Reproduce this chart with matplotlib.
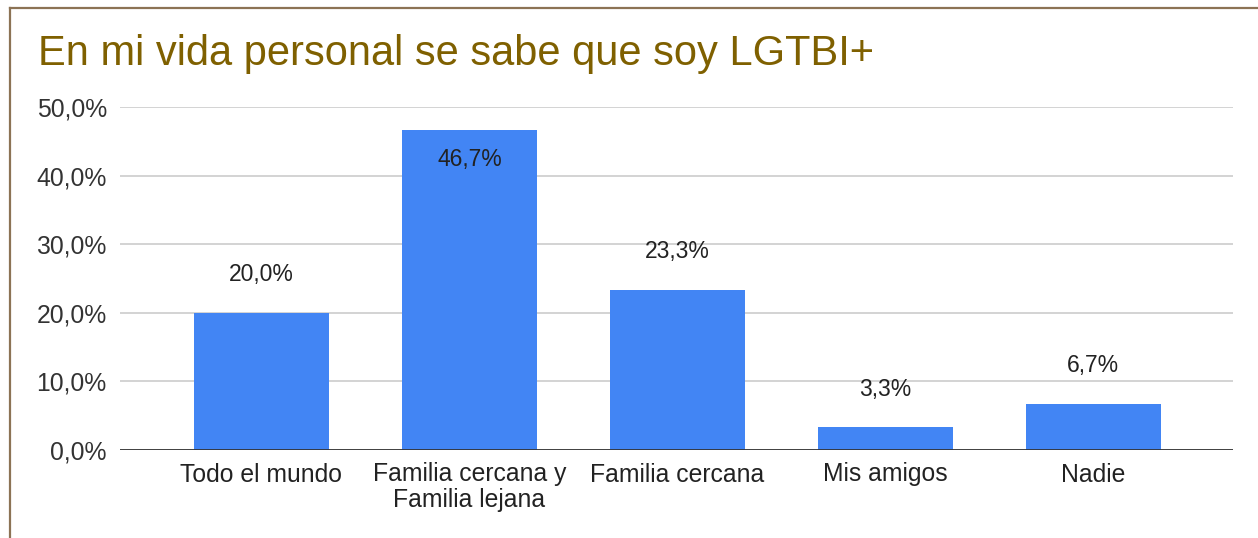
import matplotlib
matplotlib.use("Agg")
import matplotlib.pyplot as plt
from matplotlib.lines import Line2D
from matplotlib.ticker import FuncFormatter

categories = ["Todo el mundo", "Familia cercana y\nFamilia lejana", "Familia cercana", "Mis amigos", "Nadie"]
values = [20.0, 46.7, 23.3, 3.3, 6.7]
yticks = [0, 10, 20, 30, 40, 50]

plt.rcParams['font.family'] = ['Liberation Sans', 'DejaVu Sans']

W, H = 1258, 538
fig = plt.figure(figsize=(W / 100, H / 100), dpi=100)
fig.patch.set_facecolor('white')

ax = fig.add_axes([120 / W, 88 / H, (1233 - 120) / W, (450 - 107) / H])
x = list(range(len(categories)))
ax.bar(x, values, width=0.649, color='#4285F4', zorder=3)
ax.set_xlim(-0.680, 4.671)
ax.set_ylim(0, 50)
ax.set_yticks(yticks)
ax.yaxis.set_major_formatter(FuncFormatter(lambda v, p: f"{v:.1f}".replace('.', ',') + "%"))
ax.grid(axis='y', color='#cccccc', linewidth=1.2, zorder=0)
ax.axhline(0, color='#333333', linewidth=2.0, zorder=4)
for s in ax.spines.values():
    s.set_visible(False)
ax.set_xticks(x)
ax.set_xticklabels(categories, fontsize=17.8, color='#222222', linespacing=1.1)
ax.tick_params(axis='x', length=0, pad=9)
ax.tick_params(axis='y', length=0, pad=9.5, labelsize=17.8, labelcolor='#333333')

for xi, v in zip(x, values):
    lbl = f"{v:.1f}".replace('.', ',') + "%"
    if v > 45:
        off = -21.5
    else:
        off = 27.5
    ax.annotate(lbl, (xi, v), xytext=(0, off), textcoords='offset points',
                ha='center', va='center', fontsize=16.5, color='#222222', zorder=5)

fig.text(38 / W, 1 - 54 / H, "En mi vida personal se sabe que soy LGTBI+",
         fontsize=30, color='#7F6000', ha='left', va='center')

border = '#8c7355'
fig.add_artist(Line2D([10 / W, 10 / W], [0, 1 - 8 / H], transform=fig.transFigure, color=border, linewidth=1.6))
fig.add_artist(Line2D([10 / W, 1], [1 - 8 / H, 1 - 8 / H], transform=fig.transFigure, color=border, linewidth=1.6))

fig.savefig("out.png", dpi=100, facecolor='white')
